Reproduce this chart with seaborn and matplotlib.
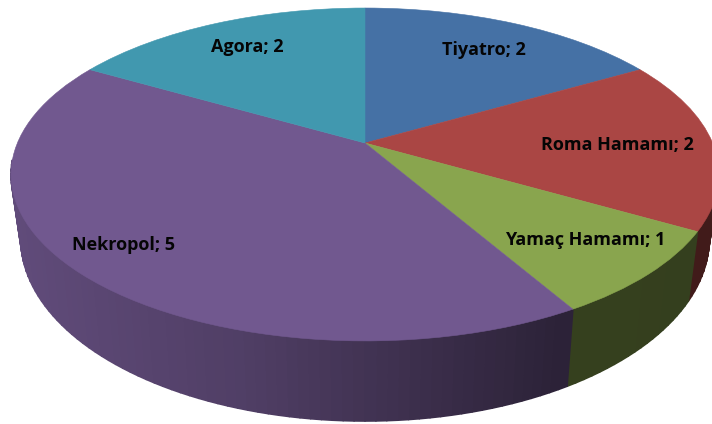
import numpy as np
import matplotlib
matplotlib.use("Agg")
import matplotlib.pyplot as plt
from matplotlib.path import Path
from matplotlib.transforms import Transform
import seaborn as sns

categories = ["Tiyatro", "Roma Hamamı", "Yamaç Hamamı", "Nekropol", "Agora"]
values = [2, 2, 1, 5, 2]
slice_colors = ["#4571a5", "#aa4644", "#89a54e", "#71588f", "#4198af"]
label_xy = [(484, 50), (617, 145), (585, 240), (124, 245), (247, 47)]

sns.set_theme(style="white")
plt.rcParams["font.family"] = ["Open Sans", "DejaVu Sans"]
palette = sns.color_palette(slice_colors)

# Perspective of the chart's disc, in image pixels
K = 0.189
TOP = dict(cx=365, cy=143, a=347.6, b=160.5)
LOW = dict(cx=365, cy=204, a=338, b=176)


def project(u, v, p):
    d = 1 + K * v
    return p["cx"] + p["a"] * u / d, p["cy"] - p["b"] * v / d


class Disc(Transform):
    input_dims = output_dims = 2

    def transform_non_affine(self, xy):
        xy = np.asarray(xy, float)
        x, y = project(xy[:, 0], xy[:, 1], TOP)
        return np.column_stack([x, y])

    def transform_path_non_affine(self, path):
        return Path(self.transform_non_affine(path.vertices), path.codes)


fig = plt.figure(figsize=(7.12, 4.24), dpi=100, facecolor="white")
ax = fig.add_axes([0, 0, 1, 1])

wedges, _ = ax.pie(values, colors=palette, startangle=90, counterclock=False, radius=1)
ax.set_aspect("auto")
ax.set_xlim(0, 712)
ax.set_ylim(424, 0)
ax.axis("off")

disc = Disc()
for w, c in zip(wedges, palette):
    w.set_transform(disc + ax.transData)
    w.set_facecolor(c)
    w.set_edgecolor(c)
    w.set_linewidth(0.4)
    w.set_zorder(5)

# Shaded rim
shade_x = [20, 240, 400, 560, 720]
shade_f = [0.85, 0.71, 0.55, 0.39, 0.38]
strips = []
for w, c in zip(wedges, palette):
    t1, t2 = min(w.theta1, w.theta2), max(w.theta1, w.theta2)
    edges = np.linspace(t1, t2, int(max(2, (t2 - t1) / 1.5)) + 1)
    for a0, a1 in zip(edges[:-1], edges[1:]):
        amid = np.radians((a0 + a1) / 2)
        if np.sin(amid) > -0.1:
            continue
        strips.append((np.sin(amid), a0, a1, c))
strips.sort(key=lambda s: -s[0])
for _, a0, a1, c in strips:
    r0, r1 = np.radians(a0), np.radians(a1)
    x0, y0 = project(np.cos(r0), np.sin(r0), TOP)
    x1, y1 = project(np.cos(r1), np.sin(r1), TOP)
    x2, y2 = project(np.cos(r1), np.sin(r1), LOW)
    x3, y3 = project(np.cos(r0), np.sin(r0), LOW)
    f = np.interp((x0 + x1) / 2, shade_x, shade_f)
    col = tuple(np.array(c) * f)
    ax.fill([x0, x1, x2, x3], [y0, y1, y2, y3], facecolor=col, edgecolor=col,
            lw=1.2, joinstyle="round", zorder=2)

for name, val, (x, y) in zip(categories, values, label_xy):
    ax.text(x, y, f"{name}; {val}", ha="center", va="center", fontsize=13,
            fontweight="bold", color="#050505", zorder=10)

fig.savefig("out.png", dpi=100, facecolor="white")
